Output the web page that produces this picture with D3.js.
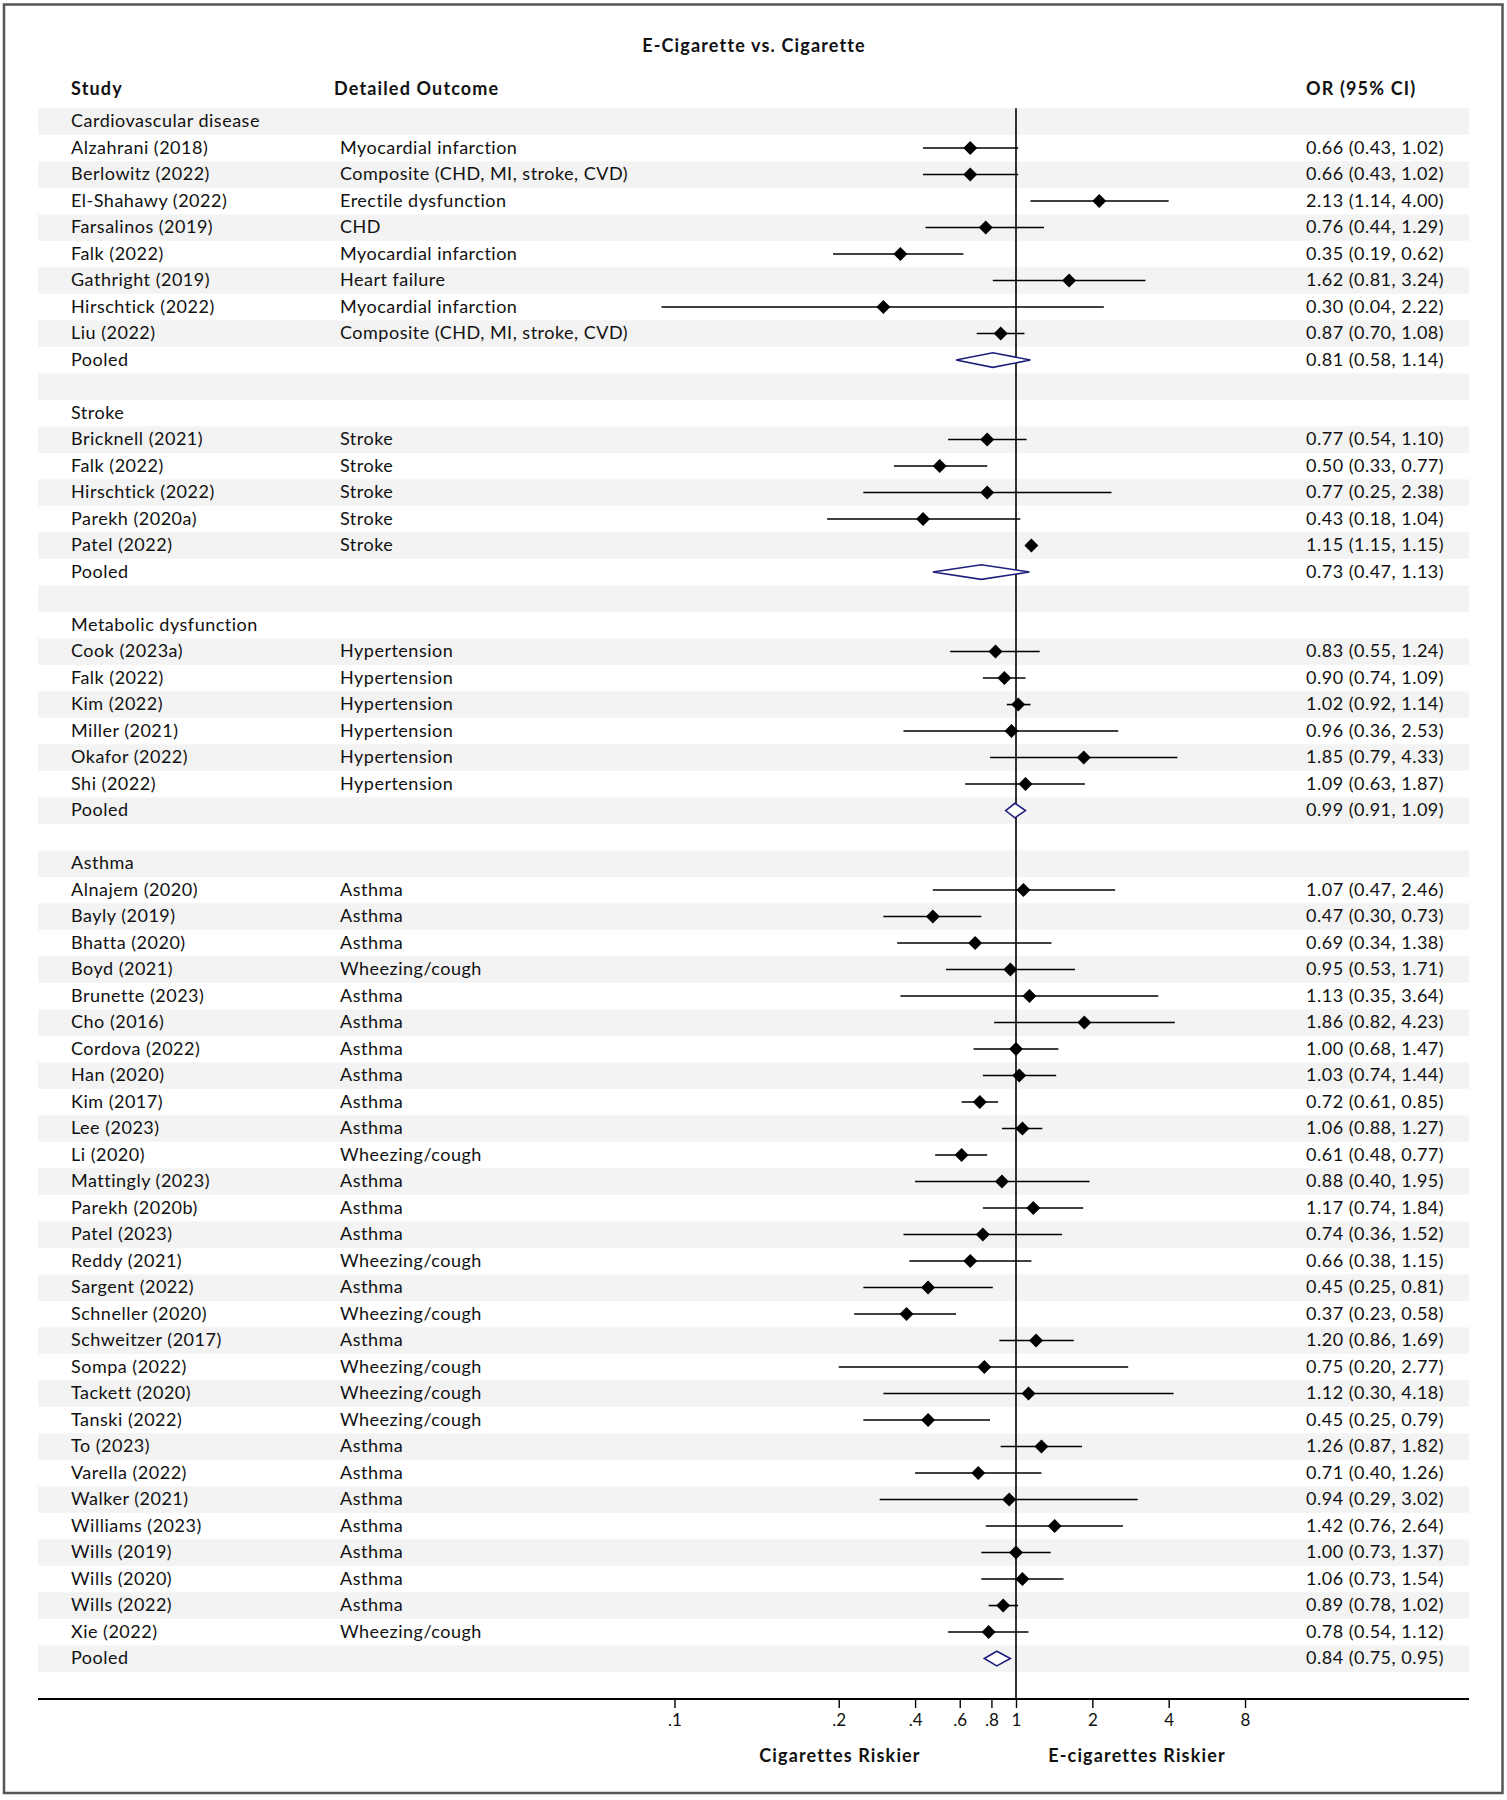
<!DOCTYPE html>
<html>
<head>
<meta charset="utf-8">
<script src="https://cdn.jsdelivr.net/npm/d3@7"></script>
<style>
  html, body { margin: 0; padding: 0; background: #fff; }
  svg { display: block; }
  text { font-family: Lato, "Open Sans", sans-serif; fill: #111; }
</style>
</head>
<body>
<svg id="chart" width="1507" height="1800"></svg>
<script>
// ---------------- DATA ----------------
const groups = ["Cardiovascular disease", "Stroke", "Metabolic dysfunction", "Asthma"];

const studies = [
  // Cardiovascular disease
  "Alzahrani (2018)", "Berlowitz (2022)", "El-Shahawy (2022)", "Farsalinos (2019)",
  "Falk (2022)", "Gathright (2019)", "Hirschtick (2022)", "Liu (2022)",
  // Stroke
  "Bricknell (2021)", "Falk (2022)", "Hirschtick (2022)", "Parekh (2020a)", "Patel (2022)",
  // Metabolic dysfunction
  "Cook (2023a)", "Falk (2022)", "Kim (2022)", "Miller (2021)", "Okafor (2022)", "Shi (2022)",
  // Asthma
  "Alnajem (2020)", "Bayly (2019)", "Bhatta (2020)", "Boyd (2021)", "Brunette (2023)",
  "Cho (2016)", "Cordova (2022)", "Han (2020)", "Kim (2017)", "Lee (2023)", "Li (2020)",
  "Mattingly (2023)", "Parekh (2020b)", "Patel (2023)", "Reddy (2021)", "Sargent (2022)",
  "Schneller (2020)", "Schweitzer (2017)", "Sompa (2022)", "Tackett (2020)", "Tanski (2022)",
  "To (2023)", "Varella (2022)", "Walker (2021)", "Williams (2023)", "Wills (2019)",
  "Wills (2020)", "Wills (2022)", "Xie (2022)"
];

const studyGroup = [
  0,0,0,0,0,0,0,0,
  1,1,1,1,1,
  2,2,2,2,2,2,
  3,3,3,3,3,3,3,3,3,3,3,3,3,3,3,3,3,3,3,3,3,3,3,3,3,3,3,3,3
];

const outcomes = [
  "Myocardial infarction", "Composite (CHD, MI, stroke, CVD)", "Erectile dysfunction", "CHD",
  "Myocardial infarction", "Heart failure", "Myocardial infarction", "Composite (CHD, MI, stroke, CVD)",
  "Stroke", "Stroke", "Stroke", "Stroke", "Stroke",
  "Hypertension", "Hypertension", "Hypertension", "Hypertension", "Hypertension", "Hypertension",
  "Asthma", "Asthma", "Asthma", "Wheezing/cough", "Asthma",
  "Asthma", "Asthma", "Asthma", "Asthma", "Asthma", "Wheezing/cough",
  "Asthma", "Asthma", "Asthma", "Wheezing/cough", "Asthma",
  "Wheezing/cough", "Asthma", "Wheezing/cough", "Wheezing/cough", "Wheezing/cough",
  "Asthma", "Asthma", "Asthma", "Asthma", "Asthma",
  "Asthma", "Asthma", "Wheezing/cough"
];

const oddsRatio = [
  0.66, 0.66, 2.13, 0.76, 0.35, 1.62, 0.30, 0.87,
  0.77, 0.50, 0.77, 0.43, 1.15,
  0.83, 0.90, 1.02, 0.96, 1.85, 1.09,
  1.07, 0.47, 0.69, 0.95, 1.13, 1.86, 1.00, 1.03, 0.72, 1.06, 0.61,
  0.88, 1.17, 0.74, 0.66, 0.45, 0.37, 1.20, 0.75, 1.12, 0.45,
  1.26, 0.71, 0.94, 1.42, 1.00, 1.06, 0.89, 0.78
];
const ciLower = [
  0.43, 0.43, 1.14, 0.44, 0.19, 0.81, 0.04, 0.70,
  0.54, 0.33, 0.25, 0.18, 1.15,
  0.55, 0.74, 0.92, 0.36, 0.79, 0.63,
  0.47, 0.30, 0.34, 0.53, 0.35, 0.82, 0.68, 0.74, 0.61, 0.88, 0.48,
  0.40, 0.74, 0.36, 0.38, 0.25, 0.23, 0.86, 0.20, 0.30, 0.25,
  0.87, 0.40, 0.29, 0.76, 0.73, 0.73, 0.78, 0.54
];
const ciUpper = [
  1.02, 1.02, 4.00, 1.29, 0.62, 3.24, 2.22, 1.08,
  1.10, 0.77, 2.38, 1.04, 1.15,
  1.24, 1.09, 1.14, 2.53, 4.33, 1.87,
  2.46, 0.73, 1.38, 1.71, 3.64, 4.23, 1.47, 1.44, 0.85, 1.27, 0.77,
  1.95, 1.84, 1.52, 1.15, 0.81, 0.58, 1.69, 2.77, 4.18, 0.79,
  1.82, 1.26, 3.02, 2.64, 1.37, 1.54, 1.02, 1.12
];

const pooledOR    = [0.81, 0.73, 0.99, 0.84];
const pooledLower = [0.58, 0.47, 0.91, 0.75];
const pooledUpper = [1.14, 1.13, 1.09, 0.95];

const tickValues = [0.045, 0.2, 0.4, 0.6, 0.8, 1, 2, 4, 8];
const tickLabels = [".1", ".2", ".4", ".6", ".8", "1", "2", "4", "8"];

const title = "E-Cigarette vs. Cigarette";
const headers = ["Study", "Detailed Outcome", "OR (95% CI)"];
const sideLabels = ["Cigarettes Riskier", "E-cigarettes Riskier"];

// ---------------- BUILD ROWS ----------------
const rows = [];
groups.forEach((g, gi) => {
  rows.push({ type: "header", label: g });
  studies.forEach((s, i) => {
    if (studyGroup[i] === gi) {
      rows.push({ type: "study", label: s, outcome: outcomes[i],
                  or: oddsRatio[i], lo: ciLower[i], hi: ciUpper[i] });
    }
  });
  rows.push({ type: "pooled", label: "Pooled",
              or: pooledOR[gi], lo: pooledLower[gi], hi: pooledUpper[gi] });
  if (gi < groups.length - 1) rows.push({ type: "blank" });
});
rows.forEach((r, i) => r.idx = i);

// ---------------- LAYOUT ----------------
const W = 1507, H = 1800;
const rowH = 26.5;
const rowTop = 108.3;
const bandLeft = 38, bandRight = 1469;
const colStudy = 71, colOutcome = 340, colOutcomeHead = 334, colOR = 1306;
const axisY = 1699;
const regSpacing = 0.5, boldSpacing = 1.15;

const svg = d3.select("#chart");

const y = d3.scaleBand()
  .domain(rows.map(r => r.idx))
  .range([rowTop, rowTop + rowH * rows.length])
  .paddingInner(0).paddingOuter(0);

const decade = 253.6, xOne = 1016;
const x = d3.scaleLog()
  .domain([0.04, 8])
  .range([xOne + decade * Math.log10(0.04), xOne + decade * Math.log10(8)]);

const fmt = d3.format(".2f");
const fmtCI = r => `${fmt(r.or)} (${fmt(r.lo)}, ${fmt(r.hi)})`;

// outer frame
svg.append("rect")
  .attr("x", 4).attr("y", 4.5).attr("width", W - 8.5).attr("height", H - 11.5)
  .attr("fill", "none").attr("stroke", "#555").attr("stroke-width", 2.5);

// bands
svg.append("g").selectAll("rect")
  .data(rows.filter(r => r.idx % 2 === 0))
  .join("rect")
  .attr("x", bandLeft).attr("width", bandRight - bandLeft)
  .attr("y", r => y(r.idx)).attr("height", y.bandwidth())
  .attr("fill", "#f3f3f3");

// title
svg.append("text")
  .attr("x", 754).attr("y", 51.5)
  .attr("text-anchor", "middle")
  .attr("font-size", 18).attr("font-weight", 700)
  .attr("letter-spacing", boldSpacing)
  .text(title);

// column headers
const headG = svg.append("g").attr("font-size", 18).attr("font-weight", 700)
  .attr("letter-spacing", boldSpacing);
headG.append("text").attr("x", colStudy).attr("y", 95).text(headers[0]);
headG.append("text").attr("x", colOutcomeHead).attr("y", 95).text(headers[1]);
headG.append("text").attr("x", colOR).attr("y", 95).text(headers[2]);

const cy = r => y(r.idx) + y.bandwidth() / 2;

// row texts
const textG = svg.append("g").attr("font-size", 18).attr("letter-spacing", regSpacing);
textG.selectAll("text.lab")
  .data(rows.filter(r => r.type !== "blank"))
  .join("text").attr("class", "lab")
  .attr("x", colStudy).attr("y", r => cy(r) + 5.7)
  .text(r => r.label);
textG.selectAll("text.out")
  .data(rows.filter(r => r.type === "study"))
  .join("text").attr("class", "out")
  .attr("x", colOutcome).attr("y", r => cy(r) + 5.7)
  .text(r => r.outcome);
textG.selectAll("text.ci")
  .data(rows.filter(r => r.type === "study" || r.type === "pooled"))
  .join("text").attr("class", "ci")
  .attr("x", colOR).attr("y", r => cy(r) + 5.7)
  .text(fmtCI);

// reference line at 1
svg.append("line")
  .attr("x1", x(1)).attr("x2", x(1))
  .attr("y1", rowTop).attr("y2", axisY)
  .attr("stroke", "#000").attr("stroke-width", 1.6);

// CI lines
const studyRows = rows.filter(r => r.type === "study");
svg.append("g").selectAll("line")
  .data(studyRows.filter(r => r.lo !== r.hi))
  .join("line")
  .attr("x1", r => x(r.lo)).attr("x2", r => x(r.hi))
  .attr("y1", cy).attr("y2", cy)
  .attr("stroke", "#000").attr("stroke-width", 1.6);

// point diamonds
const ds = 7;
svg.append("g").selectAll("path")
  .data(studyRows)
  .join("path")
  .attr("d", r => {
    const px = x(r.or), py = cy(r);
    return `M${px},${py - ds}L${px + ds},${py}L${px},${py + ds}L${px - ds},${py}Z`;
  })
  .attr("fill", "#000");

// pooled diamonds
const ph = 7.3;
svg.append("g").selectAll("path")
  .data(rows.filter(r => r.type === "pooled"))
  .join("path")
  .attr("d", r => {
    const py = cy(r);
    return `M${x(r.lo)},${py}L${x(r.or)},${py - ph}L${x(r.hi)},${py}L${x(r.or)},${py + ph}Z`;
  })
  .attr("fill", "#fff").attr("stroke", "#1f1f7c").attr("stroke-width", 1.6);

// axis
svg.append("line")
  .attr("x1", bandLeft).attr("x2", bandRight)
  .attr("y1", axisY).attr("y2", axisY)
  .attr("stroke", "#000").attr("stroke-width", 1.8);

const axis = d3.axisBottom(x)
  .tickValues(tickValues)
  .tickFormat((d, i) => tickLabels[i])
  .tickSize(9).tickPadding(6);
const axG = svg.append("g").attr("transform", `translate(0,${axisY})`).call(axis);
axG.select(".domain").remove();
axG.selectAll(".tick line").attr("stroke", "#000").attr("stroke-width", 1.4);
axG.selectAll(".tick text")
  .attr("font-family", "Lato, sans-serif").attr("font-size", 17).attr("fill", "#111");

// side labels
const sideG = svg.append("g").attr("font-size", 18).attr("font-weight", 700)
  .attr("letter-spacing", boldSpacing).attr("text-anchor", "middle");
sideG.append("text").attr("x", 840).attr("y", 1762).text(sideLabels[0]);
sideG.append("text").attr("x", 1137).attr("y", 1762).text(sideLabels[1]);
</script>
</body>
</html>
